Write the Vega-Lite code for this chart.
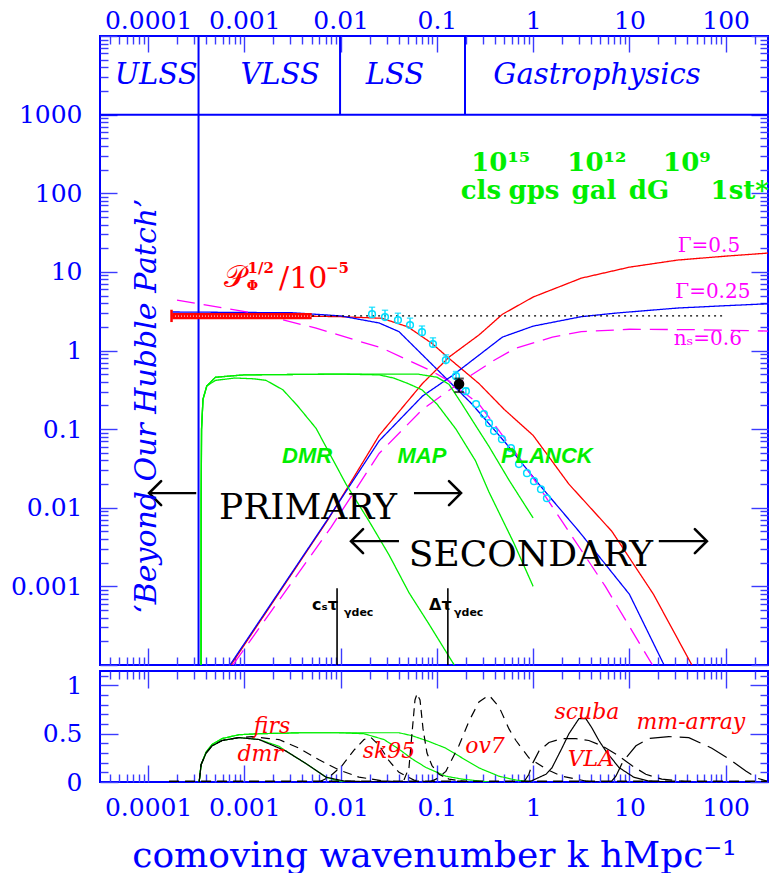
{
  "$schema": "https://vega.github.io/schema/vega-lite/v6.json",
  "padding": {"left": 9, "top": -1, "right": 0, "bottom": 0},
  "background": "white",
  "spacing": 6,
  "bounds": "flush",
  "resolve": {"scale": {"color": "independent", "strokeDash": "independent", "strokeWidth": "independent", "shape": "independent"}},
  "config": {
    "view": {"stroke": "#0000ff", "strokeWidth": 2},
    "axis": {"domain": false, "grid": false, "labelFont": "DejaVu Serif", "labelFontSize": 25, "labelColor": "#0000ff", "tickColor": "#3b3bff", "tickWidth": 1.4, "labelFlush": false, "labelOverlap": false, "labelBound": false, "titleFont": "DejaVu Serif", "titleColor": "#0000ff", "titleFontWeight": "normal"}
  },
  "datasets": {
    "cyan": [
      {"k": 0.0212, "v": 2.9, "lo": 2.6, "hi": 3.55},
      {"k": 0.0289, "v": 2.66, "lo": 2.4, "hi": 3.25},
      {"k": 0.0394, "v": 2.44, "lo": 2.2, "hi": 2.98},
      {"k": 0.0526, "v": 2.11, "lo": 1.9, "hi": 2.58},
      {"k": 0.07, "v": 1.71, "lo": 1.53, "hi": 2.05},
      {"k": 0.091, "v": 1.21, "lo": 1.08, "hi": 1.45},
      {"k": 0.124, "v": 0.755, "lo": 0.67, "hi": 0.88},
      {"k": 0.158, "v": 0.472, "lo": 0.43, "hi": 0.54},
      {"k": 0.2, "v": 0.304, "lo": 0.28, "hi": 0.33},
      {"k": 0.255, "v": 0.208, "lo": null, "hi": null},
      {"k": 0.308, "v": 0.155, "lo": null, "hi": null},
      {"k": 0.348, "v": 0.119, "lo": null, "hi": null},
      {"k": 0.392, "v": 0.0944, "lo": null, "hi": null},
      {"k": 0.474, "v": 0.0746, "lo": null, "hi": null},
      {"k": 0.588, "v": 0.0573, "lo": null, "hi": null},
      {"k": 0.712, "v": 0.0359, "lo": null, "hi": null},
      {"k": 0.863, "v": 0.0275, "lo": null, "hi": null},
      {"k": 1.02, "v": 0.0218, "lo": null, "hi": null},
      {"k": 1.205, "v": 0.0172, "lo": null, "hi": null},
      {"k": 1.39, "v": 0.0132, "lo": null, "hi": null}
    ],
    "arrows": [
      {"k": 0.0001024, "k2": 0.000316, "v": 0.01535, "head": 0.0001024, "dir": "left"},
      {"k": 0.0578, "k2": 0.178, "v": 0.01535, "head": 0.178, "dir": "right"},
      {"k": 0.01283, "k2": 0.04036, "v": 0.00376, "head": 0.01283, "dir": "left"},
      {"k": 20.2, "k2": 63.8, "v": 0.00376, "head": 63.8, "dir": "right"}
    ]
  },
  "vconcat": [
    {
      "width": 668,
      "height": 629,
      "resolve": {"axis": {"x": "independent", "y": "independent"}},
      "layer": [
        {
          "data": {"values": [
            {"c": "redD", "k": 0.0001778, "v": 2.754}, {"c": "redD", "k": 0.003162, "v": 2.754}, {"c": "redD", "k": 0.01, "v": 2.692}, {"c": "redD", "k": 0.02692, "v": 2.57}, {"c": "redD", "k": 0.05012, "v": 1.995}, {"c": "redD", "k": 0.0889, "v": 1.23}, {"c": "redD", "k": 0.1337, "v": 0.794}, {"c": "redD", "k": 0.2735, "v": 0.38}, {"c": "redD", "k": 0.5012, "v": 0.178}, {"c": "redD", "k": 1, "v": 0.0832}, {"c": "redD", "k": 2.355, "v": 0.01995}, {"c": "redD", "k": 6.577, "v": 0.00501}, {"c": "redD", "k": 17.78, "v": 0.000794}, {"c": "redD", "k": 44.57, "v": 0.0001},
            {"c": "blueD", "k": 0.0001778, "v": 3.09}, {"c": "blueD", "k": 0.003162, "v": 3.02}, {"c": "blueD", "k": 0.01, "v": 2.754}, {"c": "blueD", "k": 0.02512, "v": 2.239}, {"c": "blueD", "k": 0.04036, "v": 1.738}, {"c": "blueD", "k": 0.06998, "v": 0.891}, {"c": "blueD", "k": 0.1259, "v": 0.4365}, {"c": "blueD", "k": 0.2312, "v": 0.2089}, {"c": "blueD", "k": 0.5212, "v": 0.06607}, {"c": "blueD", "k": 1.148, "v": 0.01995}, {"c": "blueD", "k": 2.992, "v": 0.005012}, {"c": "blueD", "k": 10, "v": 0.000794}, {"c": "blueD", "k": 22.91, "v": 0.0001},
            {"c": "magD", "k": 0.0001995, "v": 4.375}, {"c": "magD", "k": 0.001422, "v": 2.904}, {"c": "magD", "k": 0.005559, "v": 1.928}, {"c": "magD", "k": 0.02692, "v": 1.072}, {"c": "magD", "k": 0.0889, "v": 0.547}, {"c": "magD", "k": 0.1337, "v": 0.4074}, {"c": "magD", "k": 0.2735, "v": 0.2089}, {"c": "magD", "k": 0.7656, "v": 0.0389}, {"c": "magD", "k": 1.991, "v": 0.00676}, {"c": "magD", "k": 5.623, "v": 0.001}, {"c": "magD", "k": 17.38, "v": 0.0001},
            {"c": "redA", "k": 0.0007244, "v": 0.0001}, {"c": "redA", "k": 0.007586, "v": 0.007413}, {"c": "redA", "k": 0.02512, "v": 0.08318}, {"c": "redA", "k": 0.07079, "v": 0.3802}, {"c": "redA", "k": 0.1349, "v": 0.8318}, {"c": "redA", "k": 0.2754, "v": 1.585}, {"c": "redA", "k": 0.4786, "v": 2.884}, {"c": "redA", "k": 1, "v": 4.786}, {"c": "redA", "k": 3.162, "v": 8.318}, {"c": "redA", "k": 10, "v": 11.48}, {"c": "redA", "k": 31.62, "v": 14.13}, {"c": "redA", "k": 100, "v": 15.85}, {"c": "redA", "k": 281.8, "v": 17.38},
            {"c": "blueA", "k": 0.0007079, "v": 0.0001}, {"c": "blueA", "k": 0.007586, "v": 0.007586}, {"c": "blueA", "k": 0.02512, "v": 0.07079}, {"c": "blueA", "k": 0.07079, "v": 0.263}, {"c": "blueA", "k": 0.1445, "v": 0.4786}, {"c": "blueA", "k": 0.3162, "v": 1.0}, {"c": "blueA", "k": 0.4786, "v": 1.479}, {"c": "blueA", "k": 1, "v": 2.042}, {"c": "blueA", "k": 3.162, "v": 2.692}, {"c": "blueA", "k": 7.244, "v": 2.992}, {"c": "blueA", "k": 31.62, "v": 3.467}, {"c": "blueA", "k": 100, "v": 3.715}, {"c": "blueA", "k": 281.8, "v": 3.936},
            {"c": "magA", "k": 0.0007586, "v": 0.0001}, {"c": "magA", "k": 0.007943, "v": 0.005623}, {"c": "magA", "k": 0.02512, "v": 0.04898}, {"c": "magA", "k": 0.07079, "v": 0.1778}, {"c": "magA", "k": 0.182, "v": 0.4074}, {"c": "magA", "k": 0.3981, "v": 0.7586}, {"c": "magA", "k": 0.6607, "v": 1.072}, {"c": "magA", "k": 1.585, "v": 1.479}, {"c": "magA", "k": 3.162, "v": 1.738}, {"c": "magA", "k": 10, "v": 1.862}, {"c": "magA", "k": 50.12, "v": 1.841}, {"c": "magA", "k": 281.8, "v": 1.766},
            {"c": "gDMR", "k": 0.0003548, "v": 0.0001}, {"c": "gDMR", "k": 0.0003556, "v": 0.01259}, {"c": "gDMR", "k": 0.0003589, "v": 0.1}, {"c": "gDMR", "k": 0.0003715, "v": 0.24}, {"c": "gDMR", "k": 0.0004074, "v": 0.355}, {"c": "gDMR", "k": 0.0005012, "v": 0.417}, {"c": "gDMR", "k": 0.0007943, "v": 0.4467}, {"c": "gDMR", "k": 0.001259, "v": 0.4365}, {"c": "gDMR", "k": 0.001679, "v": 0.417}, {"c": "gDMR", "k": 0.002512, "v": 0.3162}, {"c": "gDMR", "k": 0.003548, "v": 0.1995}, {"c": "gDMR", "k": 0.005559, "v": 0.1023}, {"c": "gDMR", "k": 0.01138, "v": 0.01995}, {"c": "gDMR", "k": 0.01972, "v": 0.006761}, {"c": "gDMR", "k": 0.03184, "v": 0.002512}, {"c": "gDMR", "k": 0.05129, "v": 0.0008318}, {"c": "gDMR", "k": 0.08279, "v": 0.0003311}, {"c": "gDMR", "k": 0.1514, "v": 0.0001},
            {"c": "gMAP", "k": 0.0003548, "v": 0.0001}, {"c": "gMAP", "k": 0.0003556, "v": 0.01259}, {"c": "gMAP", "k": 0.0003589, "v": 0.1}, {"c": "gMAP", "k": 0.0003715, "v": 0.24}, {"c": "gMAP", "k": 0.0004074, "v": 0.355}, {"c": "gMAP", "k": 0.0005012, "v": 0.4571}, {"c": "gMAP", "k": 0.001, "v": 0.4898}, {"c": "gMAP", "k": 0.01, "v": 0.5012}, {"c": "gMAP", "k": 0.02512, "v": 0.4898}, {"c": "gMAP", "k": 0.03548, "v": 0.4467}, {"c": "gMAP", "k": 0.05012, "v": 0.3802}, {"c": "gMAP", "k": 0.06998, "v": 0.3162}, {"c": "gMAP", "k": 0.1, "v": 0.2089}, {"c": "gMAP", "k": 0.1578, "v": 0.1}, {"c": "gMAP", "k": 0.2512, "v": 0.03981}, {"c": "gMAP", "k": 0.3475, "v": 0.01585}, {"c": "gMAP", "k": 0.631, "v": 0.003548}, {"c": "gMAP", "k": 1, "v": 0.001},
            {"c": "gPLANCK", "k": 0.0003548, "v": 0.0001}, {"c": "gPLANCK", "k": 0.0003556, "v": 0.01259}, {"c": "gPLANCK", "k": 0.0003589, "v": 0.1}, {"c": "gPLANCK", "k": 0.0003715, "v": 0.24}, {"c": "gPLANCK", "k": 0.0004074, "v": 0.355}, {"c": "gPLANCK", "k": 0.0005012, "v": 0.4571}, {"c": "gPLANCK", "k": 0.001, "v": 0.4898}, {"c": "gPLANCK", "k": 0.01, "v": 0.5012}, {"c": "gPLANCK", "k": 0.0631, "v": 0.5012}, {"c": "gPLANCK", "k": 0.1, "v": 0.4571}, {"c": "gPLANCK", "k": 0.1337, "v": 0.3715}, {"c": "gPLANCK", "k": 0.182, "v": 0.2089}, {"c": "gPLANCK", "k": 0.2512, "v": 0.1122}, {"c": "gPLANCK", "k": 0.3475, "v": 0.06026}, {"c": "gPLANCK", "k": 0.5623, "v": 0.02239}, {"c": "gPLANCK", "k": 1, "v": 0.007413}
          ]},
          "mark": {"type": "line", "clip": true, "strokeWidth": 1.3},
          "encoding": {
            "x": {"field": "k", "type": "quantitative", "scale": {"type": "log", "domain": [0.00003162, 275.4]}, "title": null,
              "axis": {"orient": "top", "title": null, "values": [0.00004,0.00005,0.00006,0.00007,0.00008,0.00009,0.0001,0.0002,0.0003,0.0004,0.0005,0.0006,0.0007,0.0008,0.0009,0.001,0.002,0.003,0.004,0.005,0.006,0.007,0.008,0.009,0.01,0.02,0.03,0.04,0.05,0.06,0.07,0.08,0.09,0.1,0.2,0.3,0.4,0.5,0.6,0.7,0.8,0.9,1,2,3,4,5,6,7,8,9,10,20,30,40,50,60,70,80,90,100,200],
                "labelExpr": "indexof([0.0001,0.001,0.01,0.1,1,10,100], datum.value) >= 0 ? '' + datum.value : ''",
                "tickSize": {"condition": {"test": "indexof([0.0001,0.001,0.01,0.1,1,10,100], datum.value) >= 0", "value": -16}, "value": -8},
                "labelPadding": 19}},
            "y": {"field": "v", "type": "quantitative", "scale": {"type": "log", "domain": [0.0001, 10000]},
              "axis": {"orient": "left", "title": null, "values": [0.0001,0.0002,0.0003,0.0004,0.0005,0.0006,0.0007,0.0008,0.0009,0.001,0.002,0.003,0.004,0.005,0.006,0.007,0.008,0.009,0.01,0.02,0.03,0.04,0.05,0.06,0.07,0.08,0.09,0.1,0.2,0.3,0.4,0.5,0.6,0.7,0.8,0.9,1,2,3,4,5,6,7,8,9,10,20,30,40,50,60,70,80,90,100,200,300,400,500,600,700,800,900,1000,2000,3000,4000,5000,6000,7000,8000,9000,10000],
                "labelExpr": "indexof([0.001,0.01,0.1,1,10,100,1000], datum.value) >= 0 ? '' + datum.value : ''",
                "tickSize": {"condition": {"test": "indexof([0.0001,0.001,0.01,0.1,1,10,100,1000,10000], datum.value) >= 0", "value": -17}, "value": -8},
                "labelPadding": 35}},
            "color": {"field": "c", "type": "nominal", "legend": null, "scale": {"domain": ["redD","blueD","magD","redA","blueA","magA","gDMR","gMAP","gPLANCK"], "range": ["#ff0000","#0000ff","#ff00ff","#ff0000","#0000ff","#ff00ff","#00ee00","#00ee00","#00ee00"]}},
            "strokeDash": {"field": "c", "type": "nominal", "legend": null, "scale": {"domain": ["redD","blueD","magD","redA","blueA","magA","gDMR","gMAP","gPLANCK"], "range": [[1,0],[1,0],[18,9],[1,0],[1,0],[18,9],[1,0],[1,0],[1,0]]}}
          }
        },
        {
          "data": {"values": [{"k": 0.000334, "v": 0.0001, "v2": 10000}, {"k": 0.00986, "v": 1000, "v2": 10000}, {"k": 0.196, "v": 1000, "v2": 10000}]},
          "mark": {"type": "rule", "color": "#0000ff", "strokeWidth": 2},
          "encoding": {
            "x": {"field": "k", "type": "quantitative", "scale": {"type": "log", "domain": [0.00003162, 275.4]},
              "axis": {"orient": "bottom", "title": null, "labels": false, "values": [0.00004,0.00005,0.00006,0.00007,0.00008,0.00009,0.0001,0.0002,0.0003,0.0004,0.0005,0.0006,0.0007,0.0008,0.0009,0.001,0.002,0.003,0.004,0.005,0.006,0.007,0.008,0.009,0.01,0.02,0.03,0.04,0.05,0.06,0.07,0.08,0.09,0.1,0.2,0.3,0.4,0.5,0.6,0.7,0.8,0.9,1,2,3,4,5,6,7,8,9,10,20,30,40,50,60,70,80,90,100,200],
                "tickSize": {"condition": {"test": "indexof([0.0001,0.001,0.01,0.1,1,10,100], datum.value) >= 0", "value": -17}, "value": -8}}},
            "y": {"field": "v", "type": "quantitative", "scale": {"type": "log", "domain": [0.0001, 10000]},
              "axis": {"orient": "right", "title": null, "labels": false, "values": [0.0001,0.0002,0.0003,0.0004,0.0005,0.0006,0.0007,0.0008,0.0009,0.001,0.002,0.003,0.004,0.005,0.006,0.007,0.008,0.009,0.01,0.02,0.03,0.04,0.05,0.06,0.07,0.08,0.09,0.1,0.2,0.3,0.4,0.5,0.6,0.7,0.8,0.9,1,2,3,4,5,6,7,8,9,10,20,30,40,50,60,70,80,90,100,200,300,400,500,600,700,800,900,1000,2000,3000,4000,5000,6000,7000,8000,9000,10000],
                "tickSize": {"condition": {"test": "indexof([0.0001,0.001,0.01,0.1,1,10,100,1000,10000], datum.value) >= 0", "value": -17}, "value": -8}}},
            "y2": {"field": "v2"}
          }
        },
        {
          "data": {"values": [{"k": 0.00003162, "k2": 275.4, "v": 1000}]},
          "mark": {"type": "rule", "color": "#0000ff", "strokeWidth": 2},
          "encoding": {
            "x": {"field": "k", "type": "quantitative", "scale": {"type": "log", "domain": [0.00003162, 275.4]}, "axis": null},
            "x2": {"field": "k2"},
            "y": {"field": "v", "type": "quantitative", "scale": {"type": "log", "domain": [0.0001, 10000]}, "axis": null}
          }
        },
        {
          "data": {"values": [{"k": 0.000178, "k2": 0.005, "v": 2.5, "v2": 3.0}]},
          "mark": {"type": "rect", "color": "#ff0000"},
          "encoding": {
            "x": {"field": "k", "type": "quantitative", "scale": {"type": "log", "domain": [0.00003162, 275.4]}, "axis": null},
            "x2": {"field": "k2"},
            "y": {"field": "v", "type": "quantitative", "scale": {"type": "log", "domain": [0.0001, 10000]}, "axis": null},
            "y2": {"field": "v2"}
          }
        },
        {
          "data": {"values": [{"k": 0.00019, "k2": 0.0049, "v": 2.74}]},
          "mark": {"type": "rule", "color": "#ffffff", "strokeWidth": 1, "strokeDash": [1, 2]},
          "encoding": {
            "x": {"field": "k", "type": "quantitative", "scale": {"type": "log", "domain": [0.00003162, 275.4]}, "axis": null},
            "x2": {"field": "k2"},
            "y": {"field": "v", "type": "quantitative", "scale": {"type": "log", "domain": [0.0001, 10000]}, "axis": null}
          }
        },
        {
          "data": {"values": [{"k": 0.000175, "v": 2.3, "v2": 3.3}]},
          "mark": {"type": "rule", "color": "#ff0000", "strokeWidth": 2.5},
          "encoding": {
            "x": {"field": "k", "type": "quantitative", "scale": {"type": "log", "domain": [0.00003162, 275.4]}, "axis": null},
            "y": {"field": "v", "type": "quantitative", "scale": {"type": "log", "domain": [0.0001, 10000]}, "axis": null},
            "y2": {"field": "v2"}
          }
        },
        {
          "data": {"values": [{"k": 0.00505, "k2": 95, "v": 2.75}]},
          "mark": {"type": "rule", "color": "#000000", "strokeWidth": 1.2, "strokeDash": [2, 4]},
          "encoding": {
            "x": {"field": "k", "type": "quantitative", "scale": {"type": "log", "domain": [0.00003162, 275.4]}, "axis": null},
            "x2": {"field": "k2"},
            "y": {"field": "v", "type": "quantitative", "scale": {"type": "log", "domain": [0.0001, 10000]}, "axis": null}
          }
        },
        {
          "data": {"values": [{"k": 0.00918, "v": 0.0001, "v2": 0.00095}, {"k": 0.13, "v": 0.0001, "v2": 0.00095}]},
          "mark": {"type": "rule", "color": "#000000", "strokeWidth": 1.6},
          "encoding": {
            "x": {"field": "k", "type": "quantitative", "scale": {"type": "log", "domain": [0.00003162, 275.4]}, "axis": null},
            "y": {"field": "v", "type": "quantitative", "scale": {"type": "log", "domain": [0.0001, 10000]}, "axis": null},
            "y2": {"field": "v2"}
          }
        },
        {
          "data": {"name": "cyan"},
          "transform": [{"filter": "isValid(datum.hi)"}],
          "mark": {"type": "rule", "color": "#00ddff", "strokeWidth": 1.4},
          "encoding": {
            "x": {"field": "k", "type": "quantitative", "scale": {"type": "log", "domain": [0.00003162, 275.4]}, "axis": null},
            "y": {"field": "lo", "type": "quantitative", "scale": {"type": "log", "domain": [0.0001, 10000]}, "axis": null},
            "y2": {"field": "hi"}
          }
        },
        {
          "data": {"name": "cyan"},
          "transform": [{"filter": "isValid(datum.hi)"}],
          "mark": {"type": "point", "shape": "M-1,0L1,0", "filled": false, "stroke": "#00ddff", "strokeWidth": 1.5, "size": 40},
          "encoding": {
            "x": {"field": "k", "type": "quantitative", "scale": {"type": "log", "domain": [0.00003162, 275.4]}, "axis": null},
            "y": {"field": "hi", "type": "quantitative", "scale": {"type": "log", "domain": [0.0001, 10000]}, "axis": null}
          }
        },
        {
          "data": {"name": "cyan"},
          "mark": {"type": "point", "shape": "circle", "filled": false, "stroke": "#00ddff", "strokeWidth": 1.5, "size": 45, "opacity": 1},
          "encoding": {
            "x": {"field": "k", "type": "quantitative", "scale": {"type": "log", "domain": [0.00003162, 275.4]}, "axis": null},
            "y": {"field": "v", "type": "quantitative", "scale": {"type": "log", "domain": [0.0001, 10000]}, "axis": null}
          }
        },
        {
          "data": {"values": [{"k": 0.17, "lo": 0.296, "hi": 0.44}]},
          "mark": {"type": "rule", "color": "#000000", "strokeWidth": 1.6},
          "encoding": {
            "x": {"field": "k", "type": "quantitative", "scale": {"type": "log", "domain": [0.00003162, 275.4]}, "axis": null},
            "y": {"field": "lo", "type": "quantitative", "scale": {"type": "log", "domain": [0.0001, 10000]}, "axis": null},
            "y2": {"field": "hi"}
          }
        },
        {
          "data": {"values": [{"k": 0.17, "v": 0.296}, {"k": 0.17, "v": 0.44}]},
          "mark": {"type": "point", "shape": "M-1,0L1,0", "filled": false, "stroke": "#000000", "strokeWidth": 2, "size": 90},
          "encoding": {
            "x": {"field": "k", "type": "quantitative", "scale": {"type": "log", "domain": [0.00003162, 275.4]}, "axis": null},
            "y": {"field": "v", "type": "quantitative", "scale": {"type": "log", "domain": [0.0001, 10000]}, "axis": null}
          }
        },
        {
          "data": {"values": [{"k": 0.17, "v": 0.374}]},
          "mark": {"type": "point", "shape": "circle", "filled": true, "color": "#000000", "size": 110, "opacity": 1},
          "encoding": {
            "x": {"field": "k", "type": "quantitative", "scale": {"type": "log", "domain": [0.00003162, 275.4]}, "axis": null},
            "y": {"field": "v", "type": "quantitative", "scale": {"type": "log", "domain": [0.0001, 10000]}, "axis": null}
          }
        },
        {
          "data": {"name": "arrows"},
          "mark": {"type": "rule", "color": "#000000", "strokeWidth": 2.4},
          "encoding": {
            "x": {"field": "k", "type": "quantitative", "scale": {"type": "log", "domain": [0.00003162, 275.4]}, "axis": null},
            "x2": {"field": "k2"},
            "y": {"field": "v", "type": "quantitative", "scale": {"type": "log", "domain": [0.0001, 10000]}, "axis": null}
          }
        },
        {
          "data": {"name": "arrows"},
          "mark": {"type": "point", "filled": false, "stroke": "#000000", "strokeWidth": 2.6, "size": 576, "opacity": 1, "strokeCap": "round", "strokeJoin": "miter"},
          "encoding": {
            "x": {"field": "head", "type": "quantitative", "scale": {"type": "log", "domain": [0.00003162, 275.4]}, "axis": null},
            "y": {"field": "v", "type": "quantitative", "scale": {"type": "log", "domain": [0.0001, 10000]}, "axis": null},
            "shape": {"field": "dir", "type": "nominal", "legend": null, "scale": {"domain": ["left", "right"], "range": ["M1,-1L0,0L1,1", "M-1,-1L0,0L-1,1"]}}
          }
        },
        {
          "data": {"values": [{"t": "ULSS", "k": 0.000121, "v": 3190}, {"t": "VLSS", "k": 0.00235, "v": 3190}, {"t": "LSS", "k": 0.0367, "v": 3190}, {"t": "Gastrophysics", "k": 4.6, "v": 3190}]},
          "mark": {"type": "text", "font": "DejaVu Serif", "fontStyle": "italic", "fontSize": 29, "color": "#0000ff", "align": "center", "baseline": "middle"},
          "encoding": {
            "x": {"field": "k", "type": "quantitative", "scale": {"type": "log", "domain": [0.00003162, 275.4]}, "axis": null},
            "y": {"field": "v", "type": "quantitative", "scale": {"type": "log", "domain": [0.0001, 10000]}, "axis": null},
            "text": {"field": "t"}
          }
        },
        {
          "data": {"values": [{"t": "‘Beyond Our Hubble Patch’", "k": 0.000098, "v": 0.196}]},
          "mark": {"type": "text", "font": "DejaVu Serif", "fontStyle": "italic", "fontSize": 30, "color": "#0000ff", "align": "center", "baseline": "middle", "angle": 270},
          "encoding": {
            "x": {"field": "k", "type": "quantitative", "scale": {"type": "log", "domain": [0.00003162, 275.4]}, "axis": null},
            "y": {"field": "v", "type": "quantitative", "scale": {"type": "log", "domain": [0.0001, 10000]}, "axis": null},
            "text": {"field": "t"}
          }
        },
        {
          "data": {"values": [{"t": "10¹⁵", "k": 0.46, "v": 191}, {"t": "10¹²", "k": 4.59, "v": 191}, {"t": "10⁹", "k": 39.5, "v": 191}, {"t": "cls", "k": 0.287, "v": 84.4}, {"t": "gps", "k": 1.02, "v": 84.4}, {"t": "gal", "k": 4.28, "v": 84.4}, {"t": "dG", "k": 16.0, "v": 84.4}, {"t": "1st*", "k": 140, "v": 84.4}]},
          "mark": {"type": "text", "font": "DejaVu Serif", "fontWeight": "bold", "fontSize": 26, "color": "#00ee00", "align": "center", "baseline": "alphabetic"},
          "encoding": {
            "x": {"field": "k", "type": "quantitative", "scale": {"type": "log", "domain": [0.00003162, 275.4]}, "axis": null},
            "y": {"field": "v", "type": "quantitative", "scale": {"type": "log", "domain": [0.0001, 10000]}, "axis": null},
            "text": {"field": "t"}
          }
        },
        {
          "data": {"values": [{"t": "𝒫", "k": 0.000615, "v": 6.41}, {"t": "/10", "k": 0.00229, "v": 6.22}]},
          "mark": {"type": "text", "font": "DejaVu Serif", "fontSize": 30, "color": "#ff0000", "align": "left", "baseline": "alphabetic"},
          "encoding": {
            "x": {"field": "k", "type": "quantitative", "scale": {"type": "log", "domain": [0.00003162, 275.4]}, "axis": null},
            "y": {"field": "v", "type": "quantitative", "scale": {"type": "log", "domain": [0.0001, 10000]}, "axis": null},
            "text": {"field": "t"}
          }
        },
        {
          "data": {"values": [{"t": "1/2", "k": 0.00108, "v": 9.66}, {"t": "−5", "k": 0.00705, "v": 9.66}]},
          "mark": {"type": "text", "font": "DejaVu Serif", "fontWeight": "bold", "fontSize": 15, "color": "#ff0000", "align": "left", "baseline": "alphabetic"},
          "encoding": {
            "x": {"field": "k", "type": "quantitative", "scale": {"type": "log", "domain": [0.00003162, 275.4]}, "axis": null},
            "y": {"field": "v", "type": "quantitative", "scale": {"type": "log", "domain": [0.0001, 10000]}, "axis": null},
            "text": {"field": "t"}
          }
        },
        {
          "data": {"values": [{"t": "Φ", "k": 0.00106, "v": 5.86}]},
          "mark": {"type": "text", "font": "DejaVu Serif", "fontWeight": "bold", "fontSize": 13, "color": "#ff0000", "align": "left", "baseline": "alphabetic"},
          "encoding": {
            "x": {"field": "k", "type": "quantitative", "scale": {"type": "log", "domain": [0.00003162, 275.4]}, "axis": null},
            "y": {"field": "v", "type": "quantitative", "scale": {"type": "log", "domain": [0.0001, 10000]}, "axis": null},
            "text": {"field": "t"}
          }
        },
        {
          "data": {"values": [{"t": "Γ=0.5", "k": 67, "v": 21.3}, {"t": "Γ=0.25", "k": 73.6, "v": 5.53}, {"t": "nₛ=0.6", "k": 65.3, "v": 1.4}]},
          "mark": {"type": "text", "font": "DejaVu Serif", "fontSize": 20, "color": "#ff00ff", "align": "center", "baseline": "middle"},
          "encoding": {
            "x": {"field": "k", "type": "quantitative", "scale": {"type": "log", "domain": [0.00003162, 275.4]}, "axis": null},
            "y": {"field": "v", "type": "quantitative", "scale": {"type": "log", "domain": [0.0001, 10000]}, "axis": null},
            "text": {"field": "t"}
          }
        },
        {
          "data": {"values": [{"t": "DMR", "k": 0.00448, "v": 0.0453}, {"t": "MAP", "k": 0.07, "v": 0.0453}, {"t": "PLANCK", "k": 1.39, "v": 0.0453}]},
          "mark": {"type": "text", "font": "Liberation Sans", "fontStyle": "italic", "fontWeight": "bold", "fontSize": 22, "color": "#00ee00", "align": "center", "baseline": "middle"},
          "encoding": {
            "x": {"field": "k", "type": "quantitative", "scale": {"type": "log", "domain": [0.00003162, 275.4]}, "axis": null},
            "y": {"field": "v", "type": "quantitative", "scale": {"type": "log", "domain": [0.0001, 10000]}, "axis": null},
            "text": {"field": "t"}
          }
        },
        {
          "data": {"values": [{"t": "PRIMARY", "k": 0.00458, "v": 0.00716}, {"t": "SECONDARY", "k": 0.948, "v": 0.00181}]},
          "mark": {"type": "text", "font": "DejaVu Serif", "fontSize": 36, "color": "#000000", "align": "center", "baseline": "alphabetic"},
          "encoding": {
            "x": {"field": "k", "type": "quantitative", "scale": {"type": "log", "domain": [0.00003162, 275.4]}, "axis": null},
            "y": {"field": "v", "type": "quantitative", "scale": {"type": "log", "domain": [0.0001, 10000]}, "axis": null},
            "text": {"field": "t"}
          }
        },
        {
          "data": {"values": [{"t": "cₛτ", "k": 0.00505, "v": 0.000577}, {"t": "Δτ", "k": 0.0828, "v": 0.000577}]},
          "mark": {"type": "text", "font": "DejaVu Sans", "fontWeight": "bold", "fontSize": 16, "color": "#000000", "align": "left", "baseline": "middle"},
          "encoding": {
            "x": {"field": "k", "type": "quantitative", "scale": {"type": "log", "domain": [0.00003162, 275.4]}, "axis": null},
            "y": {"field": "v", "type": "quantitative", "scale": {"type": "log", "domain": [0.0001, 10000]}, "axis": null},
            "text": {"field": "t"}
          }
        },
        {
          "data": {"values": [{"t": "γdec", "k": 0.01084, "v": 0.000456}, {"t": "γdec", "k": 0.1507, "v": 0.000456}]},
          "mark": {"type": "text", "font": "DejaVu Sans", "fontWeight": "bold", "fontSize": 11, "color": "#000000", "align": "left", "baseline": "middle"},
          "encoding": {
            "x": {"field": "k", "type": "quantitative", "scale": {"type": "log", "domain": [0.00003162, 275.4]}, "axis": null},
            "y": {"field": "v", "type": "quantitative", "scale": {"type": "log", "domain": [0.0001, 10000]}, "axis": null},
            "text": {"field": "t"}
          }
        }
      ]
    },
    {
      "width": 668,
      "height": 111,
      "resolve": {"axis": {"x": "independent", "y": "independent"}},
      "layer": [
        {
          "data": {"values": [
            {"c": "gdmr", "k": 0.000339, "v": 0}, {"c": "gdmr", "k": 0.000355, "v": 0.18}, {"c": "gdmr", "k": 0.0004, "v": 0.3}, {"c": "gdmr", "k": 0.000462, "v": 0.375}, {"c": "gdmr", "k": 0.000587, "v": 0.43}, {"c": "gdmr", "k": 0.000881, "v": 0.46}, {"c": "gdmr", "k": 0.00142, "v": 0.44}, {"c": "gdmr", "k": 0.00229, "v": 0.37}, {"c": "gdmr", "k": 0.00271, "v": 0.32}, {"c": "gdmr", "k": 0.00438, "v": 0.19}, {"c": "gdmr", "k": 0.00705, "v": 0.05}, {"c": "gdmr", "k": 0.00962, "v": 0.01}, {"c": "gdmr", "k": 0.0155, "v": 0},
            {"c": "gmap", "k": 0.000339, "v": 0}, {"c": "gmap", "k": 0.000355, "v": 0.18}, {"c": "gmap", "k": 0.0004, "v": 0.31}, {"c": "gmap", "k": 0.000462, "v": 0.39}, {"c": "gmap", "k": 0.000587, "v": 0.45}, {"c": "gmap", "k": 0.000881, "v": 0.49}, {"c": "gmap", "k": 0.00142, "v": 0.5}, {"c": "gmap", "k": 0.0037, "v": 0.51}, {"c": "gmap", "k": 0.00962, "v": 0.51}, {"c": "gmap", "k": 0.0175, "v": 0.5}, {"c": "gmap", "k": 0.0282, "v": 0.44}, {"c": "gmap", "k": 0.0404, "v": 0.34}, {"c": "gmap", "k": 0.0551, "v": 0.24}, {"c": "gmap", "k": 0.0771, "v": 0.15}, {"c": "gmap", "k": 0.124, "v": 0.06}, {"c": "gmap", "k": 0.1824, "v": 0.03}, {"c": "gmap", "k": 0.3475, "v": 0},
            {"c": "gplanck", "k": 0.000339, "v": 0}, {"c": "gplanck", "k": 0.000355, "v": 0.18}, {"c": "gplanck", "k": 0.0004, "v": 0.31}, {"c": "gplanck", "k": 0.000462, "v": 0.39}, {"c": "gplanck", "k": 0.000587, "v": 0.45}, {"c": "gplanck", "k": 0.000881, "v": 0.49}, {"c": "gplanck", "k": 0.00142, "v": 0.5}, {"c": "gplanck", "k": 0.0037, "v": 0.51}, {"c": "gplanck", "k": 0.00962, "v": 0.51}, {"c": "gplanck", "k": 0.0404, "v": 0.51}, {"c": "gplanck", "k": 0.0551, "v": 0.48}, {"c": "gplanck", "k": 0.0828, "v": 0.42}, {"c": "gplanck", "k": 0.124, "v": 0.35}, {"c": "gplanck", "k": 0.1824, "v": 0.25}, {"c": "gplanck", "k": 0.2735, "v": 0.146}, {"c": "gplanck", "k": 0.4416, "v": 0.06}, {"c": "gplanck", "k": 0.6627, "v": 0.02}, {"c": "gplanck", "k": 0.972, "v": 0},
            {"c": "firs", "k": 0.000339, "v": 0}, {"c": "firs", "k": 0.000355, "v": 0.18}, {"c": "firs", "k": 0.0004, "v": 0.3}, {"c": "firs", "k": 0.000462, "v": 0.375}, {"c": "firs", "k": 0.000587, "v": 0.43}, {"c": "firs", "k": 0.000881, "v": 0.46}, {"c": "firs", "k": 0.0012, "v": 0.47}, {"c": "firs", "k": 0.0018, "v": 0.45}, {"c": "firs", "k": 0.00229, "v": 0.44}, {"c": "firs", "k": 0.0037, "v": 0.35}, {"c": "firs", "k": 0.00597, "v": 0.23}, {"c": "firs", "k": 0.00962, "v": 0.125}, {"c": "firs", "k": 0.01552, "v": 0.05}, {"c": "firs", "k": 0.0282, "v": 0.01}, {"c": "firs", "k": 0.0513, "v": 0},
            {"c": "bdmr", "k": 0.000339, "v": 0}, {"c": "bdmr", "k": 0.000355, "v": 0.18}, {"c": "bdmr", "k": 0.0004, "v": 0.3}, {"c": "bdmr", "k": 0.000462, "v": 0.375}, {"c": "bdmr", "k": 0.000587, "v": 0.43}, {"c": "bdmr", "k": 0.000881, "v": 0.46}, {"c": "bdmr", "k": 0.00142, "v": 0.44}, {"c": "bdmr", "k": 0.00271, "v": 0.32}, {"c": "bdmr", "k": 0.00438, "v": 0.19}, {"c": "bdmr", "k": 0.00705, "v": 0.05}, {"c": "bdmr", "k": 0.01084, "v": 0.01}, {"c": "bdmr", "k": 0.0251, "v": 0},
            {"c": "sk95", "k": 0.00597, "v": 0}, {"c": "sk95", "k": 0.00759, "v": 0.05}, {"c": "sk95", "k": 0.01035, "v": 0.17}, {"c": "sk95", "k": 0.01377, "v": 0.33}, {"c": "sk95", "k": 0.01749, "v": 0.44}, {"c": "sk95", "k": 0.0207, "v": 0.46}, {"c": "sk95", "k": 0.0251, "v": 0.38}, {"c": "sk95", "k": 0.0318, "v": 0.22}, {"c": "sk95", "k": 0.0404, "v": 0.1}, {"c": "sk95", "k": 0.0578, "v": 0.02}, {"c": "sk95", "k": 0.0828, "v": 0},
            {"c": "spike", "k": 0.0455, "v": 0.02}, {"c": "spike", "k": 0.0513, "v": 0.15}, {"c": "spike", "k": 0.0551, "v": 0.5}, {"c": "spike", "k": 0.0592, "v": 0.85}, {"c": "spike", "k": 0.0621, "v": 0.91}, {"c": "spike", "k": 0.0668, "v": 0.85}, {"c": "spike", "k": 0.0718, "v": 0.55}, {"c": "spike", "k": 0.0789, "v": 0.3}, {"c": "spike", "k": 0.0889, "v": 0.17}, {"c": "spike", "k": 0.1052, "v": 0.08}, {"c": "spike", "k": 0.1336, "v": 0.03}, {"c": "spike", "k": 0.2155, "v": 0},
            {"c": "ov7", "k": 0.0828, "v": 0}, {"c": "ov7", "k": 0.0979, "v": 0.03}, {"c": "ov7", "k": 0.124, "v": 0.11}, {"c": "ov7", "k": 0.17, "v": 0.38}, {"c": "ov7", "k": 0.2155, "v": 0.63}, {"c": "ov7", "k": 0.2735, "v": 0.83}, {"c": "ov7", "k": 0.3475, "v": 0.9}, {"c": "ov7", "k": 0.4416, "v": 0.78}, {"c": "ov7", "k": 0.561, "v": 0.55}, {"c": "ov7", "k": 0.6627, "v": 0.43}, {"c": "ov7", "k": 0.9036, "v": 0.25}, {"c": "ov7", "k": 1.358, "v": 0.135}, {"c": "ov7", "k": 1.99, "v": 0.06}, {"c": "ov7", "k": 3.53, "v": 0.01}, {"c": "ov7", "k": 4.82, "v": 0},
            {"c": "scuba", "k": 0.9036, "v": 0}, {"c": "scuba", "k": 1.358, "v": 0.08}, {"c": "scuba", "k": 1.567, "v": 0.146}, {"c": "scuba", "k": 1.99, "v": 0.35}, {"c": "scuba", "k": 2.354, "v": 0.5}, {"c": "scuba", "k": 2.99, "v": 0.656}, {"c": "scuba", "k": 3.53, "v": 0.656}, {"c": "scuba", "k": 4.08, "v": 0.56}, {"c": "scuba", "k": 4.82, "v": 0.43}, {"c": "scuba", "k": 5.7, "v": 0.32}, {"c": "scuba", "k": 7.78, "v": 0.15}, {"c": "scuba", "k": 11.1, "v": 0.05}, {"c": "scuba", "k": 15.9, "v": 0.01}, {"c": "scuba", "k": 25.7, "v": 0},
            {"c": "VLA", "k": 0.8017, "v": 0}, {"c": "VLA", "k": 0.9036, "v": 0.08}, {"c": "VLA", "k": 0.972, "v": 0.18}, {"c": "VLA", "k": 1.148, "v": 0.32}, {"c": "VLA", "k": 1.459, "v": 0.41}, {"c": "VLA", "k": 1.99, "v": 0.45}, {"c": "VLA", "k": 2.78, "v": 0.45}, {"c": "VLA", "k": 3.79, "v": 0.43}, {"c": "VLA", "k": 5.18, "v": 0.375}, {"c": "VLA", "k": 7.78, "v": 0.27}, {"c": "VLA", "k": 10.6, "v": 0.17}, {"c": "VLA", "k": 14.8, "v": 0.08}, {"c": "VLA", "k": 21.7, "v": 0.03}, {"c": "VLA", "k": 41.4, "v": 0},
            {"c": "mm", "k": 6.43, "v": 0}, {"c": "mm", "k": 7.24, "v": 0.06}, {"c": "mm", "k": 8.36, "v": 0.19}, {"c": "mm", "k": 9.2, "v": 0.25}, {"c": "mm", "k": 11.7, "v": 0.375}, {"c": "mm", "k": 15.9, "v": 0.45}, {"c": "mm", "k": 25.7, "v": 0.47}, {"c": "mm", "k": 41.4, "v": 0.46}, {"c": "mm", "k": 71.9, "v": 0.35}, {"c": "mm", "k": 108, "v": 0.24}, {"c": "mm", "k": 162, "v": 0.115}, {"c": "mm", "k": 211, "v": 0.04}, {"c": "mm", "k": 268, "v": 0.01}
          ]},
          "mark": {"type": "line", "clip": true},
          "encoding": {
            "x": {"field": "k", "type": "quantitative", "scale": {"type": "log", "domain": [0.00003162, 275.4]},
              "axis": {"orient": "bottom", "title": "comoving wavenumber k hMpc⁻¹", "titleFontSize": 36, "titlePadding": 9, "values": [0.00004,0.00005,0.00006,0.00007,0.00008,0.00009,0.0001,0.0002,0.0003,0.0004,0.0005,0.0006,0.0007,0.0008,0.0009,0.001,0.002,0.003,0.004,0.005,0.006,0.007,0.008,0.009,0.01,0.02,0.03,0.04,0.05,0.06,0.07,0.08,0.09,0.1,0.2,0.3,0.4,0.5,0.6,0.7,0.8,0.9,1,2,3,4,5,6,7,8,9,10,20,30,40,50,60,70,80,90,100,200],
                "labelExpr": "indexof([0.0001,0.001,0.01,0.1,1,10,100], datum.value) >= 0 ? '' + datum.value : ''",
                "tickSize": {"condition": {"test": "indexof([0.0001,0.001,0.01,0.1,1,10,100], datum.value) >= 0", "value": -17}, "value": -8},
                "labelPadding": 30}},
            "y": {"field": "v", "type": "quantitative", "scale": {"domain": [0, 1.15]},
              "axis": {"orient": "left", "title": null, "values": [0,0.1,0.2,0.3,0.4,0.5,0.6,0.7,0.8,0.9,1,1.1],
                "labelExpr": "datum.value == 0 ? '0' : datum.value == 0.5 ? '0.5' : datum.value == 1 ? '1' : ''",
                "tickSize": {"condition": {"test": "datum.value == 0 || datum.value == 0.5 || datum.value == 1", "value": -18}, "value": -8},
                "labelPadding": 36}},
            "color": {"field": "c", "type": "nominal", "legend": null, "scale": {"domain": ["gdmr","gmap","gplanck","firs","bdmr","sk95","spike","ov7","scuba","VLA","mm"], "range": ["#00ee00","#00ee00","#00ee00","#000000","#000000","#000000","#000000","#000000","#000000","#000000","#000000"]}},
            "strokeDash": {"field": "c", "type": "nominal", "legend": null, "scale": {"domain": ["gdmr","gmap","gplanck","firs","bdmr","sk95","spike","ov7","scuba","VLA","mm"], "range": [[1,0],[1,0],[1,0],[9,6],[1,0],[8,6],[8,5],[9,7],[1,0],[14,7],[22,8]]}},
            "strokeWidth": {"field": "c", "type": "ordinal", "legend": null, "scale": {"domain": ["gdmr","gmap","gplanck","firs","bdmr","sk95","spike","ov7","scuba","VLA","mm"], "range": [1.2,1.2,1.2,2.2,1.3,1.6,1.8,1.8,1.2,1.2,1.2]}}
          }
        },
        {
          "data": {"values": [{"k": 0.000165, "v": 0}, {"k": 268, "v": 0}]},
          "mark": {"type": "line", "color": "#000000", "strokeWidth": 3, "strokeDash": [10, 6], "clip": true},
          "encoding": {
            "x": {"field": "k", "type": "quantitative", "scale": {"type": "log", "domain": [0.00003162, 275.4]},
              "axis": {"orient": "top", "title": null, "labels": false, "values": [0.00004,0.00005,0.00006,0.00007,0.00008,0.00009,0.0001,0.0002,0.0003,0.0004,0.0005,0.0006,0.0007,0.0008,0.0009,0.001,0.002,0.003,0.004,0.005,0.006,0.007,0.008,0.009,0.01,0.02,0.03,0.04,0.05,0.06,0.07,0.08,0.09,0.1,0.2,0.3,0.4,0.5,0.6,0.7,0.8,0.9,1,2,3,4,5,6,7,8,9,10,20,30,40,50,60,70,80,90,100,200],
                "tickSize": {"condition": {"test": "indexof([0.0001,0.001,0.01,0.1,1,10,100], datum.value) >= 0", "value": -17}, "value": -8}}},
            "y": {"field": "v", "type": "quantitative", "scale": {"domain": [0, 1.15]},
              "axis": {"orient": "right", "title": null, "labels": false, "values": [0,0.1,0.2,0.3,0.4,0.5,0.6,0.7,0.8,0.9,1,1.1],
                "tickSize": {"condition": {"test": "datum.value == 0 || datum.value == 0.5 || datum.value == 1", "value": -18}, "value": -8}}}
          }
        },
        {
          "data": {"values": [{"t": "firs", "k": 0.00194, "v": 0.583}, {"t": "dmr", "k": 0.00146, "v": 0.29}, {"t": "sk95", "k": 0.0318, "v": 0.323}, {"t": "ov7", "k": 0.316, "v": 0.375}, {"t": "scuba", "k": 3.62, "v": 0.729}, {"t": "VLA", "k": 3.98, "v": 0.24}, {"t": "mm-array", "k": 43.5, "v": 0.625}]},
          "mark": {"type": "text", "font": "DejaVu Serif", "fontStyle": "italic", "fontSize": 22, "color": "#ff0000", "align": "center", "baseline": "middle"},
          "encoding": {
            "x": {"field": "k", "type": "quantitative", "scale": {"type": "log", "domain": [0.00003162, 275.4]}, "axis": null},
            "y": {"field": "v", "type": "quantitative", "scale": {"domain": [0, 1.15]}, "axis": null},
            "text": {"field": "t"}
          }
        }
      ]
    }
  ]
}
